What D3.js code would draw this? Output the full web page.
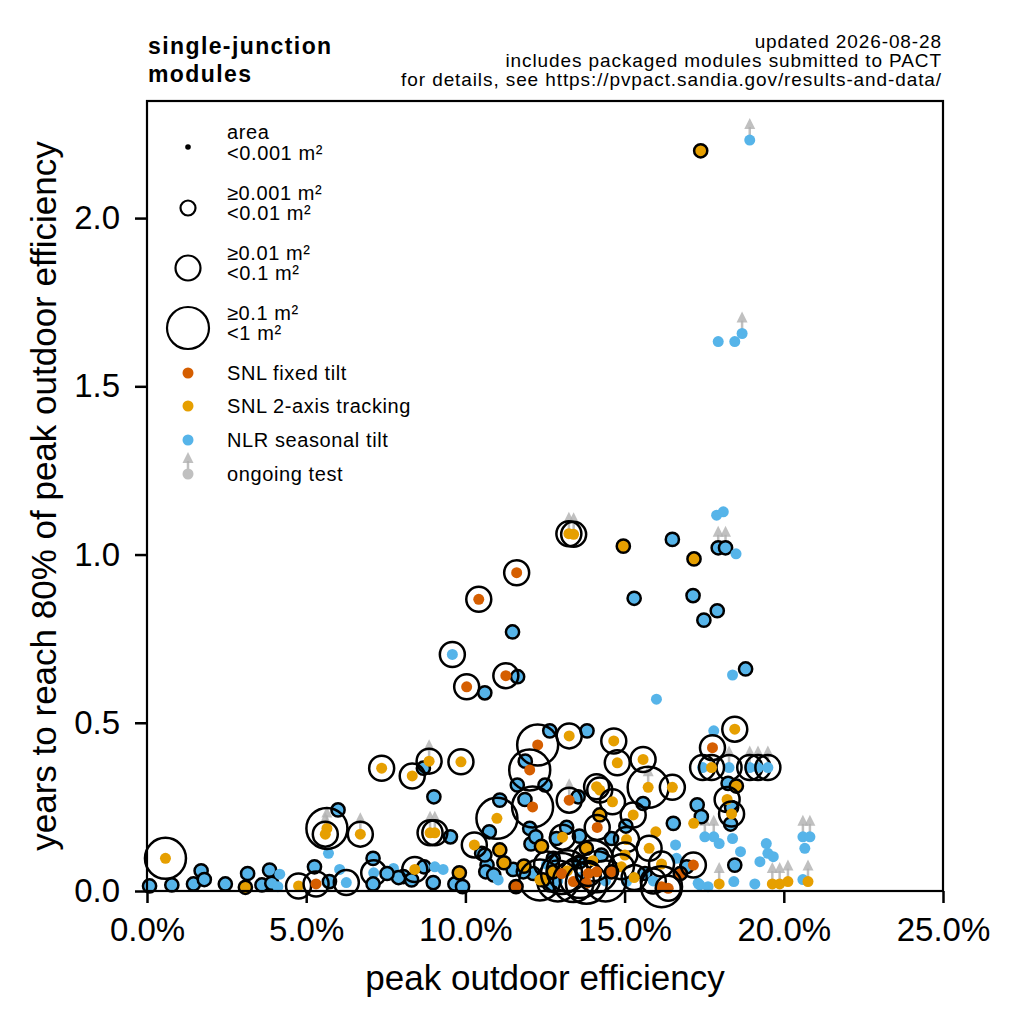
<!DOCTYPE html>
<html lang="en">
  <head>
    <meta charset="UTF-8" />
    <title>single-junction modules</title>
    <style>
      body { margin: 0; background: #fff; }
      text { font-family: "Liberation Sans", Arial, sans-serif; fill: #000; }
    </style>
  </head>
  <body>
    <script src="https://cdn.jsdelivr.net/npm/d3@7"></script>
    <script>
      // [peak efficiency %, years to 80%, area class 0..3, ongoing 0/1]
      const snlFixed = [
        [11.61, 0.946, 2, 0], [10.42, 0.867, 2, 0], [11.27, 0.640, 2, 0], [10.04, 0.607, 2, 0],
        [12.27, 0.434, 3, 0], [12.02, 0.360, 3, 0], [12.11, 0.250, 3, 0], [13.26, 0.270, 2, 1],
        [14.14, 0.189, 2, 0], [17.76, 0.426, 2, 0], [16.75, 0.052, 1, 0], [17.16, 0.077, 2, 0],
        [5.31, 0.021, 2, 0], [11.59, 0.013, 1, 0], [14.59, 0.057, 1, 0], [13.02, 0.052, 3, 0],
        [13.39, 0.028, 3, 0], [13.80, 0.023, 3, 0], [13.86, 0.052, 2, 0], [14.12, 0.057, 3, 0],
        [16.16, 0.013, 3, 0], [16.37, 0.008, 2, 0]
      ];
      const snlTracking = [
        [17.39, 2.200, 1, 0], [13.25, 1.062, 2, 1], [13.40, 1.060, 2, 1], [14.96, 1.025, 1, 0],
        [17.18, 0.987, 1, 0], [18.46, 0.481, 2, 0], [13.26, 0.461, 2, 0], [14.66, 0.446, 2, 0],
        [14.77, 0.381, 2, 0], [15.58, 0.391, 2, 0], [15.74, 0.308, 3, 1], [16.50, 0.308, 2, 0],
        [7.37, 0.365, 2, 0], [8.33, 0.342, 2, 0], [8.86, 0.386, 2, 1], [9.86, 0.384, 2, 0],
        [8.89, 0.173, 2, 1], [9.04, 0.173, 2, 1], [10.28, 0.137, 2, 0], [10.99, 0.216, 3, 0],
        [14.12, 0.310, 2, 0], [14.22, 0.300, 2, 0], [14.62, 0.265, 2, 0], [15.27, 0.226, 2, 0],
        [12.39, 0.133, 1, 0], [15.06, 0.153, 2, 0], [15.98, 0.176, 0, 0], [15.77, 0.127, 2, 0],
        [16.16, 0.080, 2, 0], [14.22, 0.226, 1, 0], [17.17, 0.201, 0, 0], [17.73, 0.367, 2, 0],
        [18.51, 0.312, 1, 0], [18.22, 0.272, 2, 0], [18.36, 0.229, 2, 0], [17.97, 0.021, 0, 1],
        [19.64, 0.021, 0, 1], [19.87, 0.021, 0, 1], [20.13, 0.028, 0, 1], [20.76, 0.028, 0, 1],
        [0.58, 0.097, 3, 0], [3.09, 0.011, 1, 0], [4.76, 0.015, 2, 0], [5.65, 0.186, 3, 1],
        [5.60, 0.169, 2, 1], [6.70, 0.169, 2, 1], [8.41, 0.064, 2, 0], [9.81, 0.054, 1, 0],
        [11.08, 0.122, 1, 0], [11.21, 0.084, 1, 0], [11.84, 0.074, 1, 0], [12.44, 0.033, 1, 0],
        [12.76, 0.057, 1, 0], [13.80, 0.127, 1, 0], [15.01, 0.107, 2, 0], [12.34, 0.033, 3, 0],
        [14.90, 0.072, 2, 0], [13.05, 0.160, 2, 0], [13.20, 0.060, 3, 0], [14.00, 0.090, 3, 0],
        [15.30, 0.040, 2, 0]
      ];
      const nlrSeasonal = [
        [18.93, 2.232, 0, 1], [17.94, 1.633, 0, 0], [18.46, 1.633, 0, 0], [18.69, 1.657, 0, 1],
        [17.89, 1.117, 0, 0], [18.10, 1.127, 0, 0], [17.94, 1.020, 1, 1], [18.17, 1.020, 1, 1],
        [18.50, 1.002, 0, 0], [16.50, 1.045, 1, 0], [15.30, 0.870, 1, 0], [17.15, 0.878, 1, 0],
        [17.91, 0.833, 1, 0], [17.49, 0.805, 1, 0], [18.80, 0.660, 1, 0], [18.39, 0.642, 0, 0],
        [16.00, 0.570, 0, 0], [17.80, 0.476, 0, 0], [11.48, 0.770, 1, 0], [9.59, 0.703, 2, 0],
        [11.64, 0.637, 1, 0], [10.61, 0.589, 1, 0], [12.65, 0.476, 1, 0], [13.82, 0.476, 1, 0],
        [16.53, 0.201, 1, 0], [8.68, 0.365, 1, 0], [9.01, 0.280, 1, 0], [9.53, 0.161, 1, 0],
        [11.88, 0.386, 1, 0], [11.63, 0.315, 1, 0], [12.50, 0.315, 1, 0], [11.87, 0.272, 1, 0],
        [11.08, 0.270, 1, 0], [13.54, 0.280, 1, 0], [15.58, 0.260, 1, 0], [12.02, 0.186, 1, 0],
        [13.18, 0.189, 1, 0], [13.58, 0.163, 1, 0], [12.06, 0.140, 1, 0], [16.60, 0.137, 0, 0],
        [10.75, 0.176, 1, 0], [12.21, 0.161, 1, 0], [10.51, 0.112, 1, 0], [10.68, 0.077, 1, 0],
        [8.05, 0.043, 1, 0], [8.70, 0.072, 1, 0], [9.04, 0.072, 0, 0], [9.30, 0.064, 0, 0],
        [8.31, 0.033, 1, 0], [8.99, 0.025, 1, 0], [9.67, 0.021, 1, 0], [9.91, 0.013, 1, 0],
        [10.64, 0.057, 1, 0], [10.89, 0.048, 1, 0], [11.03, 0.033, 0, 0], [11.50, 0.064, 1, 0],
        [12.13, 0.052, 1, 0], [17.45, 0.367, 2, 0], [18.28, 0.367, 2, 1], [18.93, 0.367, 2, 1],
        [19.19, 0.367, 2, 1], [19.50, 0.367, 2, 1], [18.25, 0.320, 1, 0], [18.36, 0.248, 1, 0],
        [18.33, 0.199, 1, 0], [17.28, 0.256, 1, 0], [17.41, 0.221, 1, 0], [17.52, 0.161, 0, 1],
        [17.80, 0.161, 0, 1], [17.97, 0.141, 0, 0], [18.39, 0.156, 0, 0], [18.64, 0.117, 0, 0],
        [19.45, 0.141, 0, 0], [19.50, 0.112, 0, 0], [19.67, 0.102, 0, 0], [19.25, 0.087, 0, 0],
        [18.46, 0.077, 1, 0], [17.31, 0.023, 0, 0], [17.62, 0.013, 0, 0], [18.43, 0.028, 0, 0],
        [19.09, 0.021, 0, 0], [20.60, 0.034, 0, 0], [20.60, 0.161, 0, 1], [20.82, 0.161, 0, 1],
        [20.66, 0.127, 0, 0], [15.04, 0.193, 1, 0], [14.59, 0.156, 1, 0], [12.86, 0.156, 1, 0],
        [0.08, 0.015, 1, 0], [0.78, 0.018, 1, 0], [1.46, 0.021, 1, 0], [1.70, 0.060, 1, 0],
        [1.80, 0.034, 1, 0], [2.46, 0.021, 1, 0], [3.16, 0.052, 1, 0], [3.61, 0.018, 1, 0],
        [3.85, 0.062, 1, 0], [3.92, 0.023, 1, 0], [4.17, 0.050, 0, 0], [4.11, 0.013, 0, 0],
        [5.26, 0.072, 1, 0], [5.73, 0.028, 1, 0], [5.70, 0.112, 0, 0], [6.05, 0.064, 0, 0],
        [6.26, 0.025, 2, 0], [6.00, 0.241, 1, 0], [7.10, 0.097, 1, 0], [7.12, 0.054, 2, 0],
        [7.10, 0.021, 1, 0], [7.74, 0.067, 0, 0], [7.90, 0.040, 1, 0], [7.54, 0.052, 1, 0],
        [10.61, 0.107, 1, 0], [11.82, 0.057, 1, 0], [14.27, 0.107, 1, 0], [15.64, 0.052, 1, 0],
        [16.95, 0.072, 1, 0], [17.36, 0.018, 0, 0], [12.76, 0.097, 1, 0], [13.59, 0.087, 1, 0],
        [12.65, 0.018, 1, 0], [15.06, 0.028, 0, 0], [16.63, 0.097, 0, 0], [12.90, 0.030, 3, 0],
        [13.60, 0.040, 3, 0], [14.40, 0.030, 3, 0], [12.55, 0.080, 2, 0], [15.90, 0.030, 2, 0]
      ];

      const seriesNames = ["SNL fixed tilt", "SNL 2-axis tracking", "NLR seasonal tilt"];
      const seriesColors = ["#D55E00", "#E69F00", "#56B4E9"];
      const areaLabels = [
        ["area", "<0.001 m²"],
        ["≥0.001 m²", "<0.01 m²"],
        ["≥0.01 m²", "<0.1 m²"],
        ["≥0.1 m²", "<1 m²"]
      ];
      const xTicks = [0, 5, 10, 15, 20, 25];
      const yTicks = [0, 0.5, 1.0, 1.5, 2.0];
      const notes = [
        "updated 2026-08-28",
        "includes packaged modules submitted to PACT",
        "for details, see https://pvpact.sandia.gov/results-and-data/"
      ];

      const W = 1018, H = 1024;
      const pl = 147, pr = 943, pt = 101, pb = 891;
      const dotR = 5.5;
      const ringR = [0, 7, 12.5, 20.5];
      const lw = 2.5;
      const gray = "#b0b0b0";

      const x = d3.scaleLinear().domain([0, 25]).range([pl, pr]);
      const y = d3.scaleLinear().domain([0, 2.348]).range([pb, pt]);

      const svg = d3.select("body").append("svg")
        .attr("width", W).attr("height", H);

      // title and notes
      ["single-junction", "modules"].forEach((t, i) => {
        svg.append("text").attr("x", 148).attr("y", 54 + i * 28)
          .attr("font-size", 23).attr("font-weight", "bold")
          .attr("letter-spacing", 1.4).text(t);
      });
      notes.forEach((t, i) => {
        svg.append("text").attr("x", 942).attr("y", 48 + i * 19)
          .attr("font-size", 19).attr("letter-spacing", 0.9)
          .attr("text-anchor", "end").text(t);
      });

      // axes
      const xAxis = svg.append("g").attr("transform", `translate(0,${pb})`)
        .call(d3.axisBottom(x).tickValues(xTicks).tickFormat(d => d.toFixed(1) + "%")
          .tickSize(12).tickPadding(15));
      const yAxis = svg.append("g").attr("transform", `translate(${pl},0)`)
        .call(d3.axisLeft(y).tickValues(yTicks).tickFormat(d3.format(".1f"))
          .tickSize(12).tickPadding(15));
      [xAxis, yAxis].forEach(g => {
        g.select(".domain").remove();
        g.selectAll("line").attr("stroke", "#000").attr("stroke-width", lw);
        g.selectAll("text").attr("font-size", 33).attr("fill", "#000")
          .attr("font-family", "Liberation Sans, Arial, sans-serif");
      });

      svg.append("text").attr("x", (pl + pr) / 2).attr("y", 990)
        .attr("text-anchor", "middle").attr("font-size", 35).text("peak outdoor efficiency");
      svg.append("text")
        .attr("transform", `translate(56,${(pt + pb) / 2}) rotate(-90)`)
        .attr("text-anchor", "middle").attr("font-size", 35)
        .text("years to reach 80% of peak outdoor efficiency");

      // points
      const plot = svg.append("g");
      const groups = [nlrSeasonal, snlTracking, snlFixed];
      const colorOf = [seriesColors[2], seriesColors[1], seriesColors[0]];

      function arrow(g, cx, cy) {
        g.append("line").attr("x1", cx).attr("x2", cx).attr("y1", cy).attr("y2", cy - 13)
          .attr("stroke", gray).attr("stroke-width", 2.5).attr("opacity", 0.8);
        g.append("path")
          .attr("d", `M${cx - 5.5},${cy - 11} L${cx + 5.5},${cy - 11} L${cx},${cy - 22} Z`)
          .attr("fill", gray).attr("opacity", 0.8);
      }

      const arrows = plot.append("g");
      groups.forEach(rows => rows.filter(r => r[3]).forEach(r => arrow(arrows, x(r[0]), y(r[1]))));

      groups.forEach((rows, gi) => {
        rows.forEach(r => {
          const cx = x(r[0]), cy = y(r[1]);
          if (r[2] > 1) {
            plot.append("circle").attr("cx", cx).attr("cy", cy).attr("r", ringR[r[2]])
              .attr("fill", "none").attr("stroke", "#000").attr("stroke-width", lw);
          }
          plot.append("circle").attr("cx", cx).attr("cy", cy)
            .attr("r", r[2] === 1 ? 6.6 : dotR)
            .attr("fill", colorOf[gi])
            .attr("stroke", r[2] === 1 ? "#000" : "none")
            .attr("stroke-width", lw);
        });
      });

      // frame
      svg.append("rect").attr("x", pl).attr("y", pt)
        .attr("width", pr - pl).attr("height", pb - pt)
        .attr("fill", "none").attr("stroke", "#000").attr("stroke-width", 2.2);

      // legend
      const lg = svg.append("g");
      const mx = 188, tx = 227, fs = 20;
      const sizeRows = [[147, 132, 153], [208, 193, 213], [268, 253, 273], [328, 313, 333]];
      sizeRows.forEach((row, i) => {
        if (i === 0) {
          lg.append("circle").attr("cx", mx).attr("cy", row[0]).attr("r", 2.8).attr("fill", "#000");
        } else {
          lg.append("circle").attr("cx", mx).attr("cy", row[0]).attr("r", [0, 7.5, 12.5, 21][i])
            .attr("fill", "none").attr("stroke", "#000").attr("stroke-width", 2.2);
        }
        areaLabels[i].forEach((t, j) => {
          lg.append("text").attr("x", tx).attr("y", row[1 + j]).attr("dy", "0.35em")
            .attr("font-size", fs).attr("letter-spacing", 0.6).text(t);
        });
      });
      const seriesY = [373, 406, 440];
      seriesNames.forEach((name, i) => {
        lg.append("circle").attr("cx", mx).attr("cy", seriesY[i]).attr("r", dotR).attr("fill", seriesColors[i]);
        lg.append("text").attr("x", tx).attr("y", seriesY[i]).attr("dy", "0.35em")
          .attr("font-size", fs).attr("letter-spacing", 0.6).text(name);
      });
      arrow(lg, mx, 474);
      lg.append("circle").attr("cx", mx).attr("cy", 474).attr("r", dotR).attr("fill", "#c0c0c0");
      lg.append("text").attr("x", tx).attr("y", 474).attr("dy", "0.35em")
        .attr("font-size", fs).attr("letter-spacing", 0.6).text("ongoing test");
    </script>
  </body>
</html>
